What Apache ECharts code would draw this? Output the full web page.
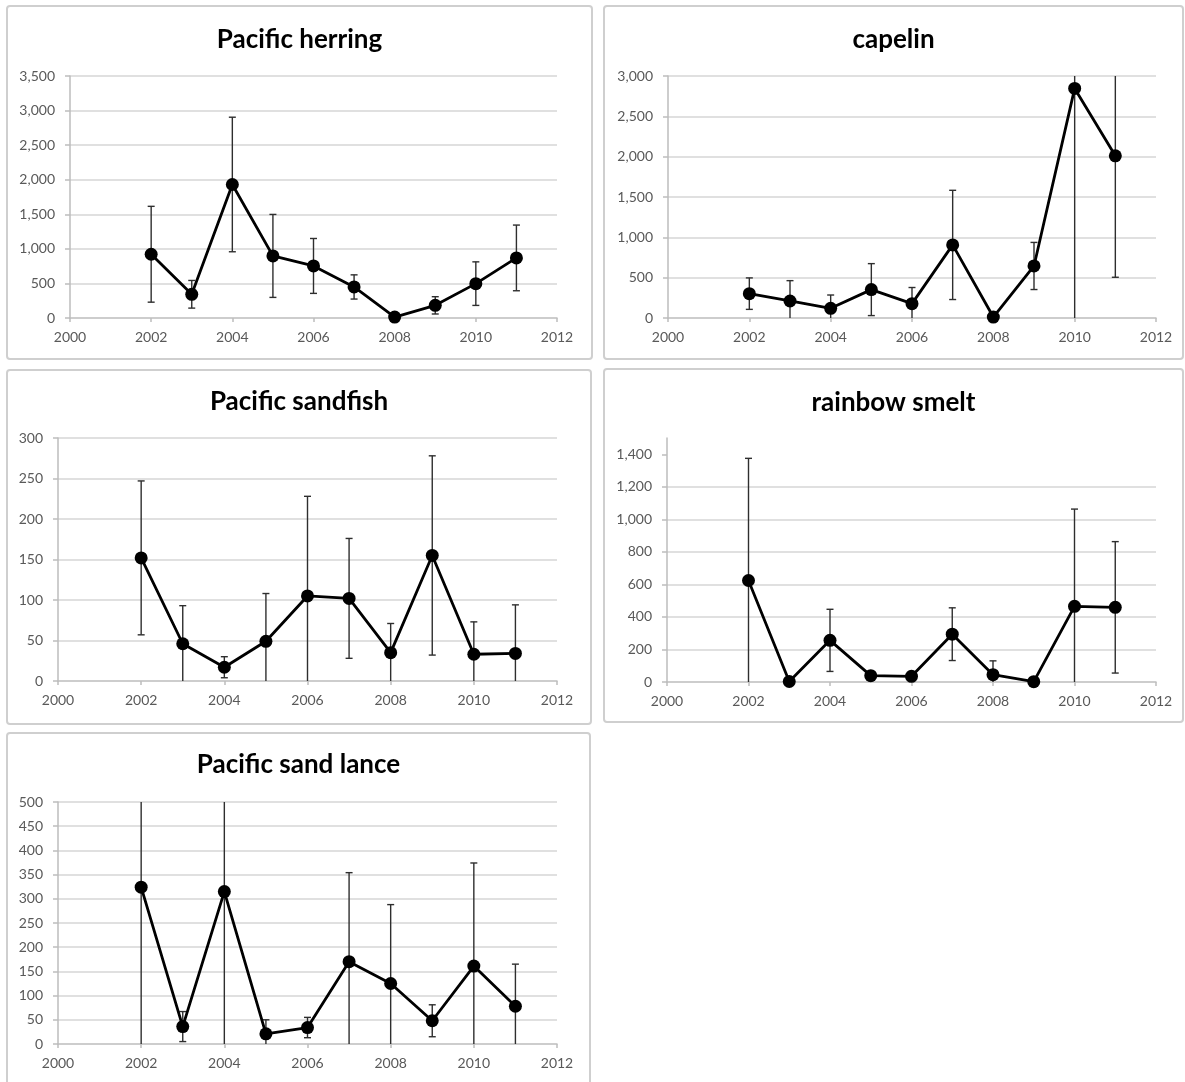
<!DOCTYPE html>
<html>
<head>
<meta charset="utf-8">
<title>Catch per year by species</title>
<script src="https://cdn.jsdelivr.net/npm/echarts@6/dist/echarts.min.js"></script>
<style>
  html, body { margin: 0; padding: 0; background: #ffffff; }
  #chart { width: 1185px; height: 1082px; }
</style>
</head>
<body>
<div id="chart"></div>
<script>
// Survey years
const years = [2002, 2003, 2004, 2005, 2006, 2007, 2008, 2009, 2010, 2011];

// Annual means and error-bar half widths, per species
const herringMean = [922, 343, 1931, 898, 753, 449, 14, 183, 497, 869];
const herringErr  = [693, 200, 973, 600, 397, 175, 12, 125, 315, 475];

const capelinMean = [302, 211, 120, 352, 178, 906, 12, 645, 2846, 2011];
const capelinErr  = [195, 252, 165, 322, 200, 677, 10, 292, 3000, 1506];

const sandfishMean = [152, 46, 17, 49, 105, 102, 35, 155, 33, 34];
const sandfishErr  = [95, 47, 13, 59, 123, 74, 36, 123, 40, 60];

const smeltMean = [624, 3, 256, 39, 35, 294, 45, 2, 465, 459];
const smeltErr  = [751, 5, 191, 10, 10, 162, 85, 3, 598, 404];

const lanceMean = [324, 36, 315, 21, 34, 170, 125, 48, 161, 78];
const lanceErr  = [400, 31, 400, 29, 21, 184, 163, 33, 213, 87];

// Axis ranges: [min, max, step]
const yearRange     = [2000, 2012, 2];
const herringRange  = [0, 3500, 500];
const capelinRange  = [0, 3000, 500];
const sandfishRange = [0, 300, 50];
const smeltRange    = [0, 1500, 200];
const lanceRange    = [0, 500, 50];

const FONT = 'Lato, "Open Sans", "DejaVu Sans", sans-serif';
const GRID_GRAY = '#d6d6d6';
const AXIS_GRAY = '#bdbdbd';
const LABEL_GRAY = '#595959';

const panels = [
  { name: 'Pacific herring',    mean: herringMean,  err: herringErr,  range: herringRange,
    box: [7, 6, 585, 353],    grid: { left: 70,  top: 76,  width: 487, height: 242 }, titleY: 40 },
  { name: 'capelin',            mean: capelinMean,  err: capelinErr,  range: capelinRange,
    box: [604, 6, 579, 353],  grid: { left: 668, top: 76,  width: 488, height: 242 }, titleY: 40 },
  { name: 'Pacific sandfish',   mean: sandfishMean, err: sandfishErr, range: sandfishRange,
    box: [7, 370, 584, 354],  grid: { left: 58,  top: 438, width: 499, height: 243 }, titleY: 402 },
  { name: 'rainbow smelt',      mean: smeltMean,    err: smeltErr,    range: smeltRange,
    box: [604, 369, 579, 353], grid: { left: 667, top: 438, width: 489, height: 244 }, titleY: 403 },
  { name: 'Pacific sand lance', mean: lanceMean,    err: lanceErr,    range: lanceRange,
    box: [7, 733, 583, 370],  grid: { left: 58,  top: 802, width: 499, height: 242 }, titleY: 765 }
];

function thousands(v) {
  return String(v).replace(/\B(?=(\d{3})+(?!\d))/g, ',');
}

function stepTicks(range) {
  const out = [];
  for (let v = range[0]; v <= range[1]; v += range[2]) out.push(v);
  return out;
}

// Vertical error bar, clipped to the value axis; caps only where the bar ends inside the axis
function errorBarRenderer(lo, hi) {
  return function (params, api) {
    const x = api.value(0), m = api.value(1), e = api.value(2);
    let a = m - e, b = m + e;
    const capLow = a >= lo, capHigh = b <= hi;
    a = Math.max(a, lo);
    b = Math.min(b, hi);
    const pA = api.coord([x, a]);
    const pB = api.coord([x, b]);
    const st = { stroke: '#2e2e2e', lineWidth: 1.4 };
    const w = 3.5;
    const children = [{ type: 'line', shape: { x1: pA[0], y1: pA[1], x2: pB[0], y2: pB[1] }, style: st }];
    if (capLow) children.push({ type: 'line', shape: { x1: pA[0] - w, y1: pA[1], x2: pA[0] + w, y2: pA[1] }, style: st });
    if (capHigh) children.push({ type: 'line', shape: { x1: pB[0] - w, y1: pB[1], x2: pB[0] + w, y2: pB[1] }, style: st });
    return { type: 'group', children: children };
  };
}

const grids = [], xAxes = [], yAxes = [], series = [], graphics = [];

panels.forEach(function (p, i) {
  graphics.push({
    type: 'rect', silent: true, z: -10,
    shape: { x: p.box[0], y: p.box[1], width: p.box[2], height: p.box[3], r: 3 },
    style: { fill: '#ffffff', stroke: '#cfcfcf', lineWidth: 2 }
  });
  graphics.push({
    type: 'text', silent: true,
    style: {
      text: p.name, x: p.box[0] + p.box[2] / 2, y: p.titleY,
      textAlign: 'center', textVerticalAlign: 'middle',
      font: 'bold 26px ' + FONT, fill: '#000000'
    }
  });

  grids.push(Object.assign({ containLabel: false }, p.grid));

  xAxes.push({
    type: 'value', gridIndex: i,
    min: yearRange[0], max: yearRange[1], interval: yearRange[2],
    axisLine: { show: true, onZero: false, lineStyle: { color: AXIS_GRAY, width: 1.5 } },
    axisTick: { show: true, length: 4, lineStyle: { color: AXIS_GRAY, width: 1.5 } },
    axisLabel: { color: LABEL_GRAY, fontFamily: FONT, fontSize: 14, margin: 12,
                 formatter: function (v) { return String(v); } },
    splitLine: { show: false }
  });

  const ticks = stepTicks(p.range);
  yAxes.push({
    type: 'value', gridIndex: i,
    min: p.range[0], max: p.range[1], interval: p.range[2],
    axisLine: { show: true, onZero: false, lineStyle: { color: AXIS_GRAY, width: 1.5 } },
    axisTick: { show: true, length: 5, customValues: ticks, lineStyle: { color: AXIS_GRAY, width: 1.5 } },
    axisLabel: { color: LABEL_GRAY, fontFamily: FONT, fontSize: 14, margin: 15,
                 showMaxLabel: ticks[ticks.length - 1] === p.range[1],
                 formatter: function (v) { return thousands(v); } },
    splitLine: { show: true, showMinLine: false,
                 showMaxLine: ticks[ticks.length - 1] === p.range[1],
                 lineStyle: { color: GRID_GRAY, width: 1.5 } }
  });

  series.push({
    type: 'custom', xAxisIndex: i, yAxisIndex: i, z: 2,
    renderItem: errorBarRenderer(p.range[0], p.range[1]),
    encode: { x: 0, y: 1 },
    data: years.map(function (y, k) { return [y, p.mean[k], p.err[k]]; }),
    silent: true
  });
  series.push({
    type: 'line', xAxisIndex: i, yAxisIndex: i, z: 3,
    data: years.map(function (y, k) { return [y, p.mean[k]]; }),
    symbol: 'circle', symbolSize: 13, showSymbol: true,
    itemStyle: { color: '#000000' },
    lineStyle: { color: '#000000', width: 2.8 },
    silent: true
  });
});

const chart = echarts.init(document.getElementById('chart'), null, { renderer: 'canvas' });
chart.setOption({
  backgroundColor: '#ffffff',
  animation: false,
  graphic: graphics,
  grid: grids,
  xAxis: xAxes,
  yAxis: yAxes,
  series: series
});
</script>
</body>
</html>
